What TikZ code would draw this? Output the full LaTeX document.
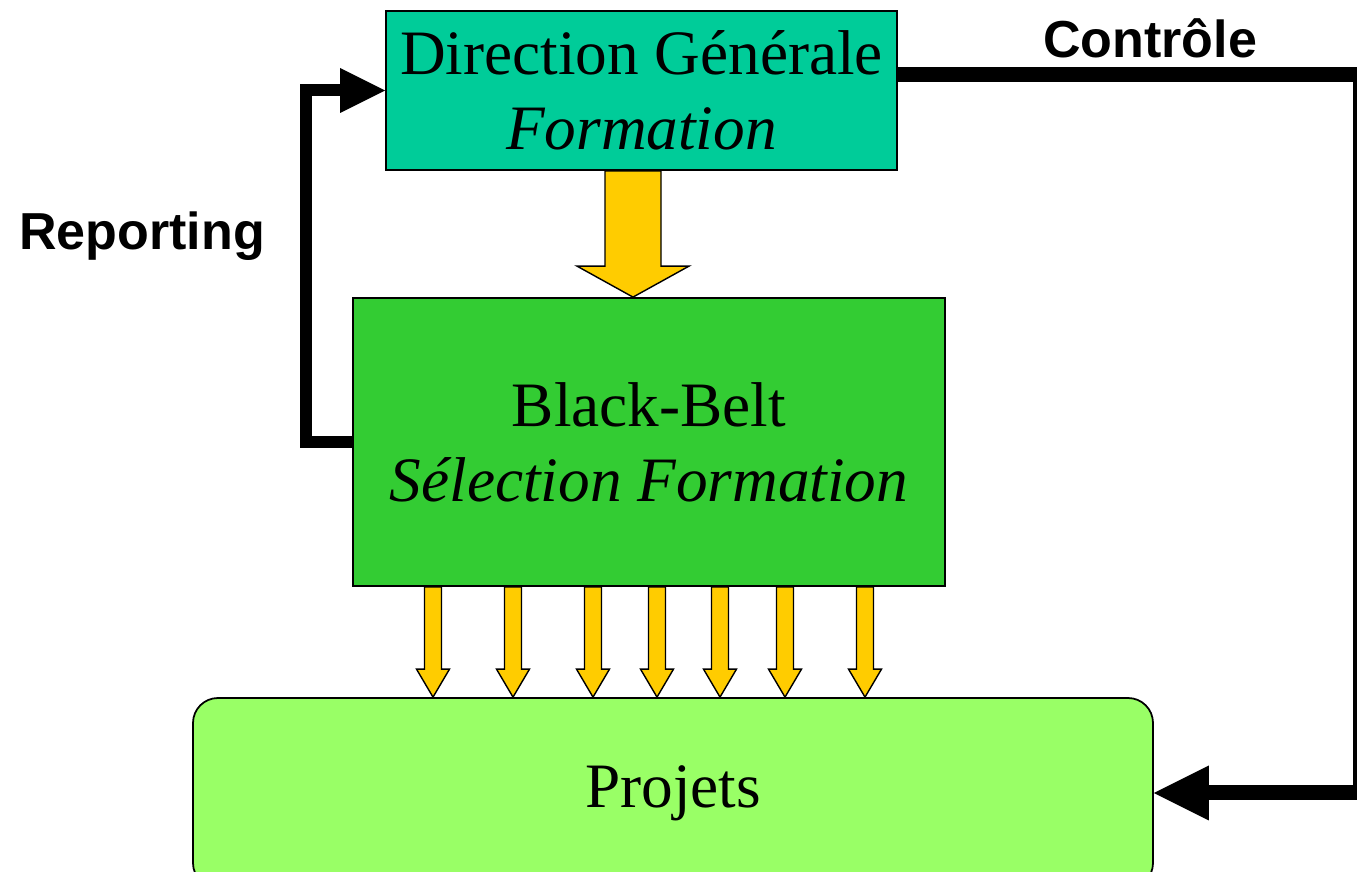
\documentclass[tikz,border=0pt]{standalone}
\usepackage{fontspec}
\setmainfont{Liberation Serif}
\setsansfont{Liberation Sans}
\usetikzlibrary{arrows.meta, calc}
\definecolor{dirTeal}{RGB}{0,204,153}
\definecolor{beltGreen}{RGB}{51,204,51}
\definecolor{projLime}{RGB}{153,255,102}
\definecolor{flowYellow}{RGB}{255,204,0}

% x, from, to, shaft half width, head half width, head length
\newcommand{\yarrow}[6]{%
  \path[yarr] let \p1=(#2), \p2=(#3) in
    (#1-#4,\y1) -- (#1-#4,\y2+#6) -- (#1-#5,\y2+#6) -- (#1,\y2)
    -- (#1+#5,\y2+#6) -- (#1+#4,\y2+#6) -- (#1+#4,\y1) -- cycle;}

\begin{document}
\begin{tikzpicture}[
  box/.style={rectangle, draw=black, line width=0.5pt, fill=#1,
              align=center, inner sep=0pt,
              font=\fontsize{18}{21.3}\selectfont},
  lbl/.style={font=\sffamily\bfseries\fontsize{14.8}{17}\selectfont},
  yarr/.style={draw=black, line width=0.4pt, fill=flowYellow, line join=miter},
  rep/.style={line width=0.12cm,
              -{Triangle[length=0.45cm, width=0.45cm, line width=0pt]}},
  ctl/.style={line width=0.15cm,
              -{Triangle[length=0.55cm, width=0.55cm, line width=0pt]}}
]
  \useasboundingbox (0,0) rectangle (13.57,8.72);

  \node[box=dirTeal, minimum width=5.11cm, minimum height=1.59cm]
    (dg) at (6.415,7.815) {Direction Générale\\\textit{Formation}};
  \node[box=beltGreen, minimum width=5.92cm, minimum height=2.88cm]
    (bb) at (6.49,4.30) {Black-Belt\\\textit{Sélection Formation}};
  \node[box=projLime, rounded corners=0.25cm,
        minimum width=9.60cm, minimum height=1.90cm]
    (pj) at (6.73,0.79) {Projets};

  \node[lbl] (ctltxt) at (11.50,8.34) {Contrôle};
  \node[lbl] (reptxt) at (1.42,6.36) {Reporting};

  \yarrow{6.33cm}{dg.south}{bb.north}{0.28cm}{0.56cm}{0.31cm}
  \foreach \px in {4.33,5.13,5.93,6.57,7.20,7.85,8.65}{
    \yarrow{\px cm}{bb.south}{pj.north}{0.085cm}{0.165cm}{0.28cm}
  }

  \draw[rep] (bb.west) -- ++(-0.46,0) |- (dg.west);
  \draw[ctl] ([yshift=1.55mm]dg.east) -- ++(4.63,0) |- (pj.east);
\end{tikzpicture}
\end{document}
